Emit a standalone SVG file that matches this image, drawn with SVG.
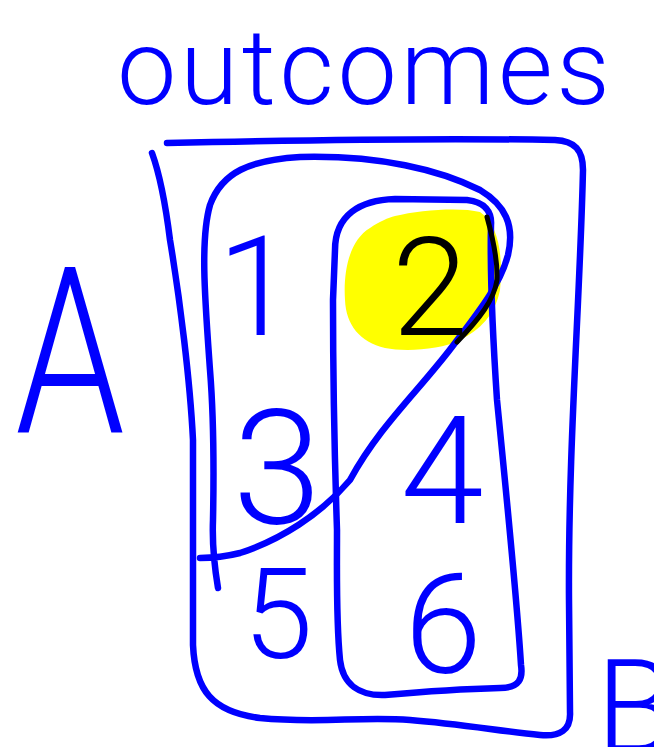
<svg xmlns="http://www.w3.org/2000/svg" width="654" height="747" viewBox="0 0 654 747">
  <style>
    .ink { fill: none; stroke: #0000FF; stroke-width: 6.5; stroke-linecap: round; stroke-linejoin: round; }
    .blk { fill: none; stroke: #000000; stroke-width: 5; stroke-linecap: round; stroke-linejoin: round; }
    .lbl { font-family: Roboto, "Liberation Sans", sans-serif; font-weight: 300; fill: #0000FF; }
    .num { text-anchor: middle; }
  </style>
  <rect width="654" height="747" fill="#FFFFFF"/>

  <g id="title">
    <text class="lbl" x="117" y="104" font-size="106" textLength="493" lengthAdjust="spacing">outcomes</text>
  </g>

  <g id="universe">
    <path class="ink" d="M167,143 C300,140 450,138 555,140 C575,141 583,150 583,170 C580,300 568,450 569,600 L570,712 C571,730 560,737 540,735 C500,731 460,724 410,720 C360,716 320,724 260,718 C212,712 195,690 193,645 L193,440 C190,380 180,300 170,240 C165,200 160,175 152,153"/>
    <text class="lbl" x="596" y="752" font-size="130">B</text>
  </g>

  <g id="highlight">
    <path fill="#FFFF00" d="M395,216 C420,210 460,207 480,212 C500,225 503,260 500,290 C495,315 480,330 460,340 C440,350 405,352 385,348 C360,342 346,325 345,300 C343,270 350,240 370,228 C380,221 388,218 395,216 Z"/>
  </g>

  <g id="set-B">
    <path class="ink" d="M333,300 C333,400 335,470 337,530 C337,580 336,620 340,660 C343,685 360,696 385,695 C430,691 460,689 500,688 C520,688 523,678 521,665 C517,600 505,480 497,400 C493,340 490,270 491,225 C492,212 485,202 467,200 L395,199 C360,200 335,215 335,250 L333,300 Z"/>
  </g>

  <g id="set-A">
    <path class="ink" d="M218,588 C215,570 212,545 213,520 C214,470 214,420 210,370 C205,300 200,240 210,205 C222,172 250,160 300,157 C380,155 440,170 480,190 C505,205 515,225 508,255 C500,285 480,310 455,343 C420,390 380,425 350,480 C320,515 280,540 240,553 C220,558 205,558 200,558"/>
    <text class="lbl" x="15" y="432" font-size="232" textLength="110" lengthAdjust="spacingAndGlyphs">A</text>
  </g>

  <g id="outcome-1"><text class="lbl num" x="256" y="335" font-size="140">1</text></g>
  <g id="outcome-2">
    <path class="blk" d="M487,217 C492,235 498,260 497,280 C494,300 480,318 457,342"/>
    <text class="lbl num" x="430" y="335" font-size="137" fill="#000000" style="fill:#000000">2</text>
  </g>
  <g id="outcome-3"><text class="lbl num" x="277" y="523" font-size="160">3</text></g>
  <g id="outcome-4"><text class="lbl num" x="442" y="523" font-size="150">4</text></g>
  <g id="outcome-5"><text class="lbl num" x="278" y="658" font-size="126">5</text></g>
  <g id="outcome-6"><text class="lbl num" x="443" y="673" font-size="140">6</text></g>

  <g id="connectors"></g>
</svg>
